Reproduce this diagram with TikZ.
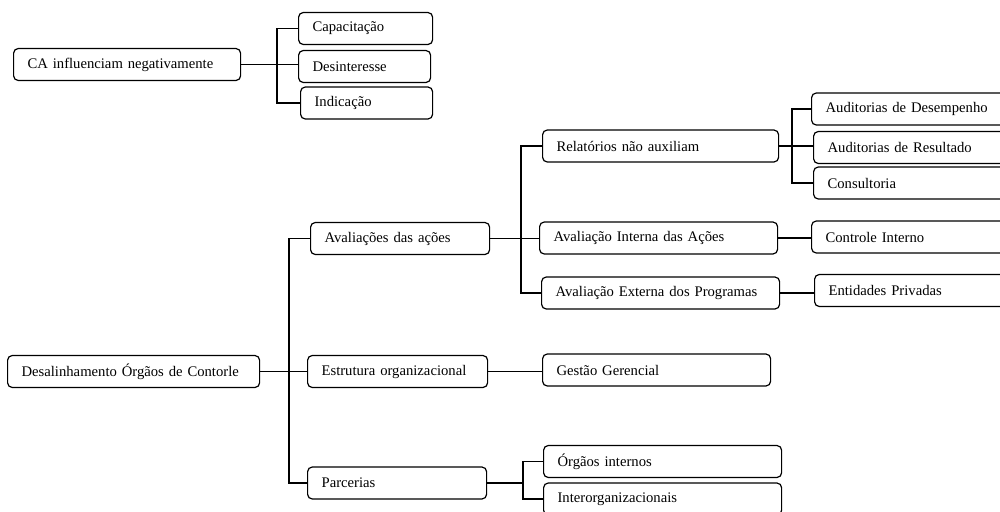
\documentclass[tikz,border=0pt]{standalone}
\usepackage{fontspec}
\setmainfont{Liberation Serif}
\begin{document}
\begin{tikzpicture}[x=0.75pt,y=-0.75pt,
  box/.style={draw, line width=0.9pt, rounded corners=3.5pt, minimum height=24pt,
    inner xsep=10.5pt, inner ysep=0pt, align=left, anchor=west,
    font=\fontsize{11}{13}\selectfont},
  link/.style={line width=0.9pt}]
\useasboundingbox (0,0) rectangle (1000,511);
\clip (0,0) rectangle (1000,511);

% first tree
\node[box, text width=149.25pt] (ca)  at (13,64.5)  {CA influenciam negativamente};
\node[box, text width=79.5pt]   (cap) at (298,28.5) {Capacitação};
\node[box, text width=78pt]     (des) at (298,66.5) {Desinteresse};
\node[box, text width=78pt]     (ind) at (300,103)  {Indicação};

% second tree
\node[box, text width=168pt]    (root) at (7,371.5)  {Desalinhamento Órgãos de Contorle};
\node[box, text width=113.25pt] (aval) at (310,238.5) {Avaliações das ações};
\node[box, text width=114pt]    (estr) at (307,371.5) {Estrutura organizacional};
\node[box, text width=113.25pt] (parc) at (307,483)   {Parcerias};

\node[box, text width=156pt]    (rel)  at (542,146)   {Relatórios não auxiliam};
\node[box, text width=157.5pt]  (avi)  at (539,238)   {Avaliação Interna das Ações};
\node[box, text width=157.5pt]  (ave)  at (541,293)   {Avaliação Externa dos Programas};
\node[box, text width=150pt]    (ges)  at (542,370)   {Gestão Gerencial};
\node[box, text width=157.5pt]  (org)  at (543,461.5) {Órgãos internos};
\node[box, text width=157.5pt]  (inter) at (543,499)  {Interorganizacionais};

\node[box, text width=150pt]    (aud1) at (811,109)   {Auditorias de Desempenho};
\node[box, text width=150pt]    (aud2) at (813,147.5) {Auditorias de Resultado};
\node[box, text width=150pt]    (cons) at (813,183)   {Consultoria};
\node[box, text width=150pt]    (ctrl) at (811,237)   {Controle Interno};
\node[box, text width=150pt]    (ent)  at (814,290.5) {Entidades Privadas};

% bus positions
\coordinate (j1) at (277,0);
\coordinate (j2) at (289,0);
\coordinate (j3) at (521,0);
\coordinate (j4) at (792,0);
\coordinate (j5) at (523,0);

% connectors
\draw[link] (ca.east) -- (ca.east -| des.west);
\draw[link] (cap.west) -- (cap.west -| j1) -- (ind.west -| j1) -- (ind.west);

\draw[link] (root.east) -- (root.east -| estr.west);
\draw[link] (aval.west) -- (aval.west -| j2) -- (parc.west -| j2) -- (parc.west);

\draw[link] (aval.east) -- (aval.east -| avi.west);
\draw[link] (rel.west) -- (rel.west -| j3) -- (ave.west -| j3) -- (ave.west);

\draw[link] (rel.east) -- (rel.east -| aud2.west);
\draw[link] (aud1.west) -- (aud1.west -| j4) -- (cons.west -| j4) -- (cons.west);

\draw[link] (avi.east) -- (avi.east -| ctrl.west);
\draw[link] (ave.east) -- (ave.east -| ent.west);
\draw[link] (estr.east) -- (estr.east -| ges.west);

\draw[link] (parc.east) -- (parc.east -| j5);
\draw[link] (org.west) -- (org.west -| j5) -- (inter.west -| j5) -- (inter.west);
\end{tikzpicture}
\end{document}
